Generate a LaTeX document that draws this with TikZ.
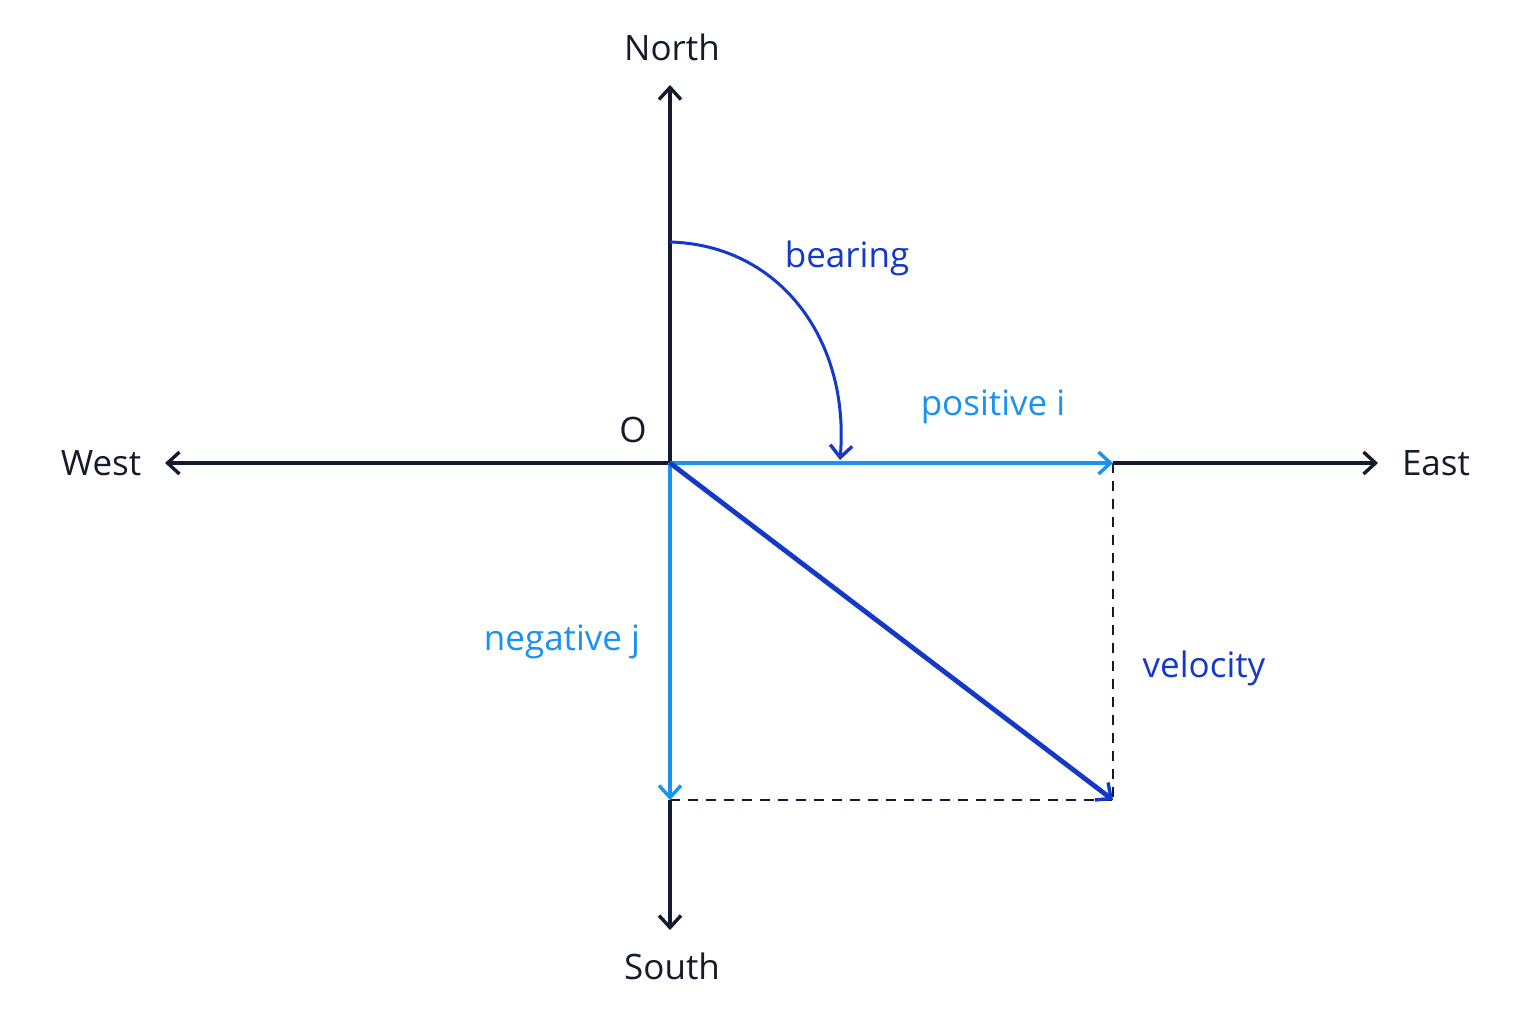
\documentclass[tikz,border=0pt]{standalone}
\usepackage{fontspec}
\setmainfont{Open Sans}
\usetikzlibrary{arrows.meta}
\definecolor{ax}{HTML}{151B2C}
\definecolor{dblue}{HTML}{1438C8}
\definecolor{lblue}{HTML}{1A92F0}
\begin{document}
\begin{tikzpicture}[x=0.5pt,y=-0.5pt,
  axis/.style={draw=ax,line width=2pt,-{Straight Barb[length=6pt,width=11pt,line width=1.7pt]}},
  lab/.style={font=\fontsize{17.5}{20}\selectfont},
  dashln/.style={draw=ax,line width=1.4pt,dash pattern=on 5pt off 4pt}]
\useasboundingbox[fill=white] (0,0) rectangle (1536,1024);
\coordinate (O) at (670,463);
\coordinate (N) at (670,85);
\coordinate (S) at (670,930);
\coordinate (W) at (165,463);
\coordinate (E) at (1378,463);
\coordinate (I) at (1113,463);
\coordinate (J) at (670,800);
\coordinate (V) at (1113,800);
\coordinate (B0) at (670,242);
\coordinate (B1) at (840,460);
\draw[axis] (O) -- (N);
\draw[axis] (J) -- (S);
\draw[axis] (O) -- (W);
\draw[axis] (I) -- (E);
\draw[dashln] (I) -- (V);
\draw[dashln] (J) -- (V);
\draw[axis,draw=lblue] (O) -- (I);
\draw[axis,draw=lblue] (O) -- (J);
\draw[axis,draw=dblue,line width=2.4pt] (O) -- (V);
\draw[axis,draw=dblue,line width=1.5pt] (B0) .. controls (780,245) and (850,340) .. (B1);
\node[lab,text=ax] (tN) at (672,47) {North};
\node[lab,text=ax] (tS) at (672,966) {South};
\node[lab,text=ax] (tW) at (101,463) {West};
\node[lab,text=ax] (tE) at (1436,463) {East};
\node[lab,text=ax] (tO) at (633,430) {O};
\node[lab,text=dblue] (tB) at (847,258) {bearing};
\node[lab,text=lblue] (tI) at (993,407) {positive i};
\node[lab,text=lblue] (tJ) at (562,642) {negative j};
\node[lab,text=dblue] (tV) at (1204,668) {velocity};
\end{tikzpicture}
\end{document}
